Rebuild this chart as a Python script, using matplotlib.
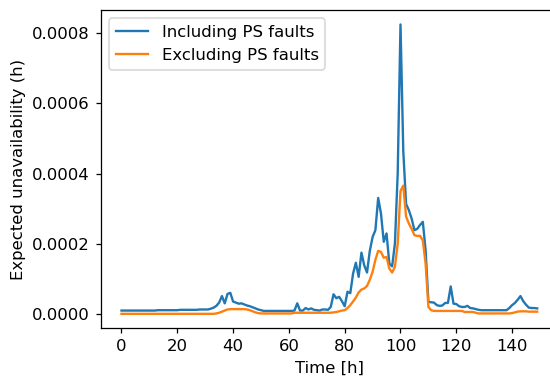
import numpy as np
import matplotlib
matplotlib.use("Agg")
import matplotlib.pyplot as plt

# hourly values (units of 1e-5 h)
hours = np.arange(150)

incl_ps = [
    1.03, 1.03, 1.03, 1.03, 1.03, 1.03, 1.03, 1.03, 1.03, 1.03,   # 0-9
    1.03, 1.03, 1.03, 1.13, 1.13, 1.13, 1.13, 1.13, 1.13, 1.13,   # 10-19
    1.13, 1.24, 1.24, 1.24, 1.24, 1.24, 1.24, 1.24, 1.34, 1.34,   # 20-29
    1.34, 1.34, 1.55, 1.86, 2.37, 3.30, 5.16, 3.09, 5.77, 6.08,   # 30-39
    3.61, 3.30, 2.99, 3.09, 2.78, 2.47, 2.27, 1.96, 1.65, 1.34,   # 40-49
    1.13, 0.93, 0.93, 0.93, 0.93, 0.93, 0.93, 0.93, 0.93, 0.93,   # 50-59
    0.93, 0.93, 1.03, 3.09, 1.03, 1.03, 1.75, 1.34, 1.65, 1.24,   # 60-69
    1.13, 1.03, 1.34, 1.34, 1.24, 2.06, 5.67, 4.54, 4.95, 3.71,   # 70-79
    2.27, 6.39, 5.98, 11.55, 14.64, 10.62, 17.53, 13.92, 11.86, 18.04,  # 80-89
    21.96, 23.92, 33.10, 28.66, 20.62, 22.99, 14.43, 13.61, 20.10, 40.20,  # 90-99
    82.50, 46.40, 31.40, 29.60, 27.20, 23.92, 24.30, 25.40, 26.30, 18.20,  # 100-109
    3.50, 3.40, 3.30, 2.58, 2.37, 2.47, 3.20, 3.20, 7.90, 2.99,   # 110-119
    2.89, 2.27, 2.06, 2.06, 2.37, 1.75, 1.65, 1.44, 1.24, 1.13,   # 120-129
    1.13, 1.13, 1.13, 1.13, 1.13, 1.13, 1.13, 1.13, 1.13, 1.75,   # 130-139
    2.58, 3.20, 4.12, 5.16, 3.71, 2.68, 1.86, 1.75, 1.75, 1.65,   # 140-149
]

excl_ps = [
    0.10, 0.10, 0.10, 0.10, 0.10, 0.10, 0.10, 0.10, 0.10, 0.10,   # 0-9
    0.10, 0.10, 0.10, 0.10, 0.10, 0.10, 0.10, 0.10, 0.10, 0.10,   # 10-19
    0.10, 0.10, 0.10, 0.10, 0.10, 0.10, 0.10, 0.10, 0.10, 0.10,   # 20-29
    0.10, 0.10, 0.10, 0.10, 0.21, 0.41, 0.72, 1.03, 1.34, 1.44,   # 30-39
    1.44, 1.44, 1.44, 1.44, 1.44, 1.34, 1.13, 0.82, 0.52, 0.31,   # 40-49
    0.21, 0.21, 0.21, 0.21, 0.21, 0.21, 0.21, 0.21, 0.21, 0.21,   # 50-59
    0.21, 0.21, 0.41, 0.41, 0.41, 0.41, 0.41, 0.41, 0.41, 0.41,   # 60-69
    0.41, 0.41, 0.41, 0.41, 0.41, 0.41, 0.52, 0.62, 0.82, 1.03,   # 70-79
    1.13, 1.75, 2.58, 3.61, 4.74, 6.19, 7.01, 7.32, 8.04, 9.79,   # 80-89
    12.06, 15.47, 18.04, 17.73, 16.08, 16.29, 12.99, 11.86, 13.51, 20.10,  # 90-99
    35.10, 36.60, 27.80, 25.80, 24.30, 22.50, 22.30, 22.30, 21.00, 14.40,  # 100-109
    2.06, 1.13, 0.93, 0.93, 0.93, 0.93, 0.93, 0.93, 0.93, 0.93,   # 110-119
    0.93, 0.93, 0.93, 0.62, 0.62, 0.62, 0.62, 0.41, 0.21, 0.21,   # 120-129
    0.21, 0.21, 0.21, 0.21, 0.21, 0.21, 0.21, 0.21, 0.21, 0.21,   # 130-139
    0.31, 0.52, 0.72, 0.82, 0.82, 0.82, 0.72, 0.72, 0.72, 0.72,   # 140-149
]

incl_ps = np.array(incl_ps) * 1e-5
excl_ps = np.array(excl_ps) * 1e-5

plt.rcParams["font.size"] = 10.5

dpi = 113
fig = plt.figure(figsize=(550 / dpi, 379 / dpi), dpi=dpi)
# axes box runs slightly past the right edge, as in the reference crop
ax = fig.add_axes([100.7 / 550, (379 - 328.3) / 379,
                   457.3 / 550, (328.3 - 10) / 379])

ax.plot(hours, incl_ps, label="Including PS faults")
ax.plot(hours, excl_ps, label="Excluding PS faults")
ax.set_xlabel("Time [h]")
ax.set_ylabel("Expected unavailability (h)")
ax.set_xticks(np.arange(0, 141, 20))
ax.set_yticks(np.arange(0, 0.00081, 0.0002))
ax.legend(loc="upper left")

fig.savefig("out.png", dpi=dpi)
